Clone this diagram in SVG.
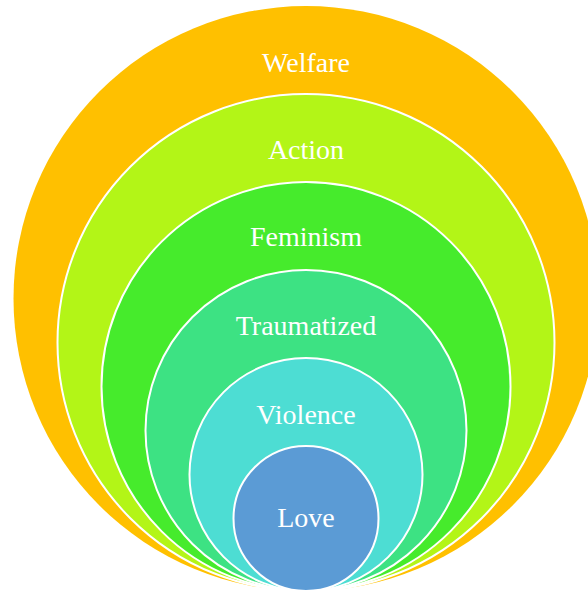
<svg xmlns="http://www.w3.org/2000/svg" width="588" height="592" viewBox="0 0 588 592">
<style>
.ring{stroke:#FFFFFF;stroke-width:2}
.lbl{font-family:"Liberation Serif","Times New Roman",serif;font-size:28px;fill:#FFFFFF;text-anchor:middle}
</style>
<rect width="588" height="592" fill="#FFFFFF"/>
<g id="welfare"><circle cx="306" cy="298.5" r="292.5" fill="#FFC000"/><text class="lbl" x="306" y="72">Welfare</text></g>
<g id="action"><circle class="ring" cx="306" cy="342.5" r="248.5" fill="#B3F517"/><text class="lbl" x="306" y="159">Action</text></g>
<g id="feminism"><circle class="ring" cx="306" cy="386.5" r="204.5" fill="#46EB2C"/><text class="lbl" x="306" y="246">Feminism</text></g>
<g id="traumatized"><circle class="ring" cx="306" cy="430.5" r="160.5" fill="#3DE283"/><text class="lbl" x="306" y="335">Traumatized</text></g>
<g id="violence"><circle class="ring" cx="306" cy="474.5" r="116.5" fill="#4DDDD3"/><text class="lbl" x="306" y="424">Violence</text></g>
<g id="love"><circle class="ring" cx="306" cy="518.5" r="72.5" fill="#5B9BD5"/><text class="lbl" x="306" y="527">Love</text></g>
<g id="connectors"></g>
</svg>
